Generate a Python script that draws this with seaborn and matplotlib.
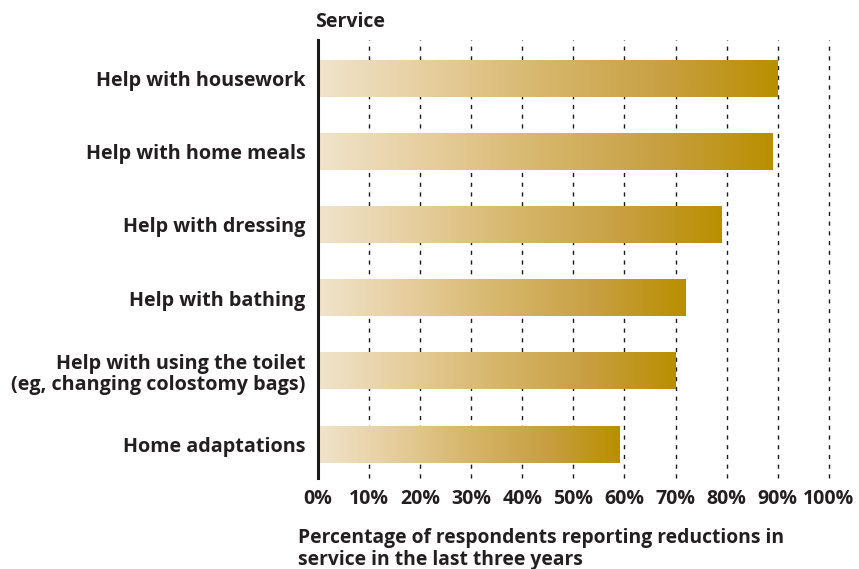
import numpy as np
import pandas as pd
import matplotlib
matplotlib.use("Agg")
import matplotlib.pyplot as plt
from matplotlib.colors import LinearSegmentedColormap
import seaborn as sns

services = [
    "Help with housework",
    "Help with home meals",
    "Help with dressing",
    "Help with bathing",
    "Help with using the toilet\n(eg, changing colostomy bags)",
    "Home adaptations",
]
pct_reporting = [90, 89, 79, 72, 70, 59]
tick_values = [0, 10, 20, 30, 40, 50, 60, 70, 80, 90, 100]
tick_labels = [f"{v}%" for v in tick_values]

df = pd.DataFrame({"service": services, "pct": pct_reporting})

sns.set_theme(style="white")
plt.rcParams["font.family"] = ["Open Sans", "DejaVu Sans"]
plt.rcParams["font.weight"] = "bold"

text_col = "#231f20"
fig = plt.figure(figsize=(8.59, 5.69), dpi=100)
ax = fig.add_axes([0.370, 0.160, 0.595, 0.770])

sns.barplot(data=df, x="pct", y="service", orient="h", width=0.5,
            color="#c9a441", ax=ax, zorder=3)

# gold gradient running along each bar
gold = LinearSegmentedColormap.from_list(
    "gold", ["#f0e4cc", "#e6cd9c", "#d6b66a", "#c8a043", "#b98f00"])
grad = np.linspace(0, 1, 256).reshape(1, -1)
for patch in ax.patches:
    x0, y0 = patch.get_x(), patch.get_y()
    w, h = patch.get_width(), patch.get_height()
    patch.set_facecolor("none")
    patch.set_edgecolor("none")
    ax.imshow(grad, cmap=gold, aspect="auto", extent=[x0, x0 + w, y0 + h, y0],
              zorder=3, interpolation="bilinear")

ax.set_xlim(0, 100)
ax.set_ylim(5.46, -0.53)
ax.set_xticks(tick_values)
ax.set_xticklabels(tick_labels)
for v in tick_values[1:]:
    ax.axvline(v, color="#1a1a1a", lw=1.0, ls=(0, (3, 4)), zorder=1,
               clip_on=False)

for side in ["top", "right", "bottom"]:
    ax.spines[side].set_visible(False)
ax.spines["left"].set_color("#1a1a1a")
ax.spines["left"].set_linewidth(2.2)
ax.spines["left"].set_zorder(5)

ax.tick_params(axis="x", length=0, pad=8, labelsize=14, labelcolor=text_col)
ax.tick_params(axis="y", length=0, pad=9, labelsize=14.2, labelcolor=text_col)
for lbl in ax.get_xticklabels() + ax.get_yticklabels():
    lbl.set_fontweight("bold")
for lbl in ax.get_yticklabels():
    lbl.set_linespacing(1.12)

ax.set_xlabel("")
ax.set_ylabel("")

fig.text(315 / 859, 1 - 22 / 569, "Service", ha="left", va="center",
         fontsize=14, fontweight="bold", color=text_col)
fig.text(298 / 859, 1 - 549 / 569,
         "Percentage of respondents reporting reductions in\nservice in the last three years",
         ha="left", va="center", fontsize=13.9, fontweight="bold", color=text_col,
         linespacing=1.1)

fig.savefig("out.png", dpi=100, facecolor="white")
